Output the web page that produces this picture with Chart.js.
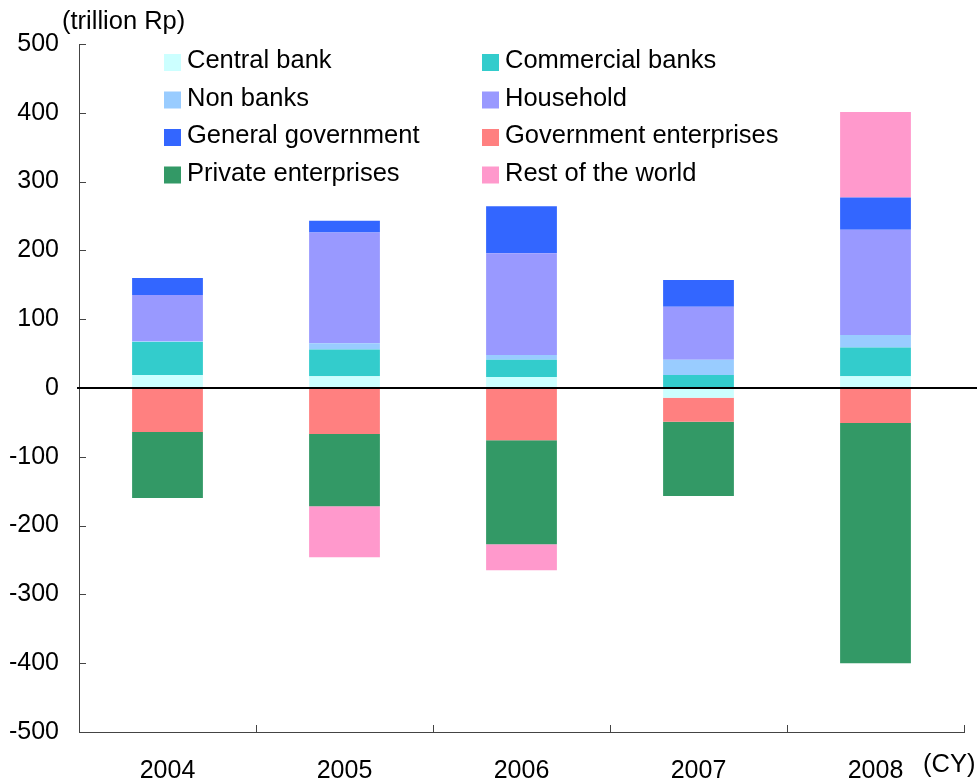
<!DOCTYPE html>
<html lang="en">
<head>
  <meta charset="UTF-8" />
  <title>Financial balance by sector</title>
  <script src="https://cdn.jsdelivr.net/npm/chart.js"></script>
  <style>
    body {
      margin: 0;
      padding: 0;
      background-color: white;
    }

    .wrap {
      width: 977px;
      height: 783px;
      position: relative;
    }
  </style>
</head>
<body>

<div class="wrap">
  <canvas id="balanceChart"></canvas>
</div>

<script>
  // Data (trillion Rp)
  const years = ["2004", "2005", "2006", "2007", "2008"];
  const centralBank = [19, 17, 16, -14, 17];
  const commercialBanks = [48, 39, 25, 19, 42];
  const nonBanks = [1, 9, 7, 22, 18];
  const household = [67, 161, 148, 77, 153];
  const generalGov = [25, 17, 68, 39, 47];
  const govEnterprises = [-64, -67, -76, -35, -51];
  const privateEnterprises = [-96, -105, -151, -108, -349];
  const restOfWorld = [0, -74, -38, 0, 124];
  const yTicks = [-500, -400, -300, -200, -100, 0, 100, 200, 300, 400, 500];

  const FONT = "'Liberation Sans', Arial, sans-serif";
  const AXIS_COLOR = "#444";

  // Axis extras, legend and unit labels
  const extras = {
    id: 'extras',
    afterDatasetsDraw(chart) {
      const ctx = chart.ctx;
      const area = chart.chartArea;
      const x = chart.scales.x;
      const y = chart.scales.y;

      ctx.save();

      // inner tick marks on the y axis
      ctx.strokeStyle = AXIS_COLOR;
      ctx.lineWidth = 1;
      yTicks.forEach(v => {
        const py = Math.round(y.getPixelForValue(v)) + 0.5;
        ctx.beginPath();
        ctx.moveTo(area.left, py);
        ctx.lineTo(area.left + 7, py);
        ctx.stroke();
      });

      // tick marks between categories on the x axis
      const step = x.getPixelForValue(1) - x.getPixelForValue(0);
      for (let i = 1; i <= years.length; i++) {
        const px = Math.round(x.getPixelForValue(i - 1) + step / 2) + 0.5;
        ctx.beginPath();
        ctx.moveTo(px, area.bottom);
        ctx.lineTo(px, area.bottom - 7);
        ctx.stroke();
      }

      // zero line
      const zy = y.getPixelForValue(0);
      ctx.strokeStyle = "#000";
      ctx.lineWidth = 2;
      ctx.beginPath();
      ctx.moveTo(area.left - 2, zy);
      ctx.lineTo(chart.width, zy);
      ctx.stroke();

      // unit labels
      ctx.fillStyle = "#000";
      ctx.font = "25.5px " + FONT;
      ctx.textAlign = "left";
      ctx.textBaseline = "alphabetic";
      ctx.fillText("(trillion Rp)", 62, 29);
      ctx.fillText("(CY)", 923, 772);

      // legend, two columns
      const cols = [164, 482];
      chart.data.datasets.forEach((ds, i) => {
        const col = i % 2;
        const row = Math.floor(i / 2);
        const base = 68 + row * 37.5;
        ctx.fillStyle = ds.backgroundColor;
        ctx.fillRect(cols[col], base - 14, 17, 17);
        ctx.fillStyle = "#000";
        ctx.fillText(ds.label, cols[col] + 23, base);
      });

      ctx.restore();
    }
  };

  function renderChart() {
    new Chart(document.getElementById('balanceChart'), {
      type: 'bar',
      data: {
        labels: years,
        datasets: [
          { label: "Central bank", data: centralBank, backgroundColor: "#CCFFFF" },
          { label: "Commercial banks", data: commercialBanks, backgroundColor: "#33CCCC" },
          { label: "Non banks", data: nonBanks, backgroundColor: "#99CCFF" },
          { label: "Household", data: household, backgroundColor: "#9999FF" },
          { label: "General government", data: generalGov, backgroundColor: "#3366FF" },
          { label: "Government enterprises", data: govEnterprises, backgroundColor: "#FF8080" },
          { label: "Private enterprises", data: privateEnterprises, backgroundColor: "#339966" },
          { label: "Rest of the world", data: restOfWorld, backgroundColor: "#FF99CC" }
        ]
      },
      options: {
        responsive: false,
        animation: false,
        devicePixelRatio: 1,
        categoryPercentage: 1,
        barPercentage: 0.4,
        layout: {
          padding: { top: 44, right: 13, left: 0, bottom: 0 }
        },
        plugins: {
          legend: { display: false },
          tooltip: { enabled: false }
        },
        scales: {
          x: {
            stacked: true,
            afterFit: scale => { scale.height = 51; },
            grid: { display: false, drawTicks: false },
            border: { display: true, color: AXIS_COLOR, width: 1 },
            ticks: {
              color: "#000",
              font: { family: FONT, size: 25 },
              padding: 24,
              maxRotation: 0
            }
          },
          y: {
            stacked: true,
            min: -500,
            max: 500,
            afterFit: scale => { scale.width = 79; },
            afterBuildTicks: scale => {
              scale.ticks = yTicks.map(v => ({ value: v }));
            },
            grid: { display: false, drawTicks: false },
            border: { display: true, color: AXIS_COLOR, width: 1 },
            ticks: {
              color: "#000",
              font: { family: FONT, size: 25 },
              padding: 20
            }
          }
        }
      },
      plugins: [extras]
    });
  }

  const canvas = document.getElementById('balanceChart');
  canvas.width = 977;
  canvas.height = 783;
  renderChart();
</script>
</body>
</html>
